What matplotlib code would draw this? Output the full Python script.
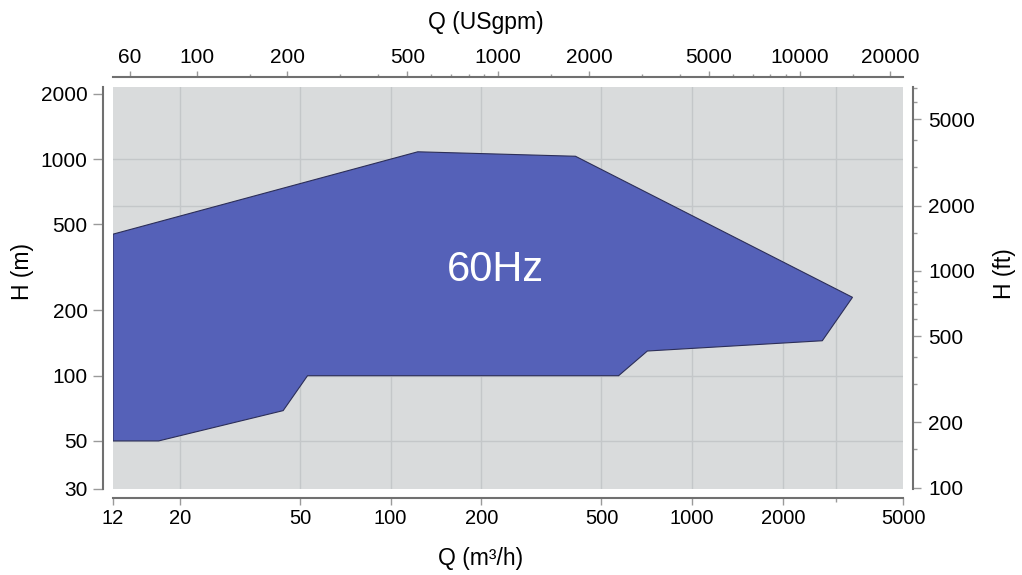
import numpy as np
import matplotlib
matplotlib.use("Agg")
import matplotlib.pyplot as plt
from matplotlib.ticker import FixedLocator, FixedFormatter, NullFormatter, NullLocator

plt.rcParams["font.family"] = ["Liberation Sans", "DejaVu Sans"]

# 60Hz working range, Q in m3/h, H in m
q_m3h = [12, 123, 410, 3400, 2700, 710, 570, 53, 44, 17, 12]
h_m = [450, 1080, 1030, 230, 145, 130, 100, 100, 69, 50, 50]

# axes ticks
q_ticks = [12, 20, 50, 100, 200, 500, 1000, 2000, 5000]
q_minor = [3000]
gpm_ticks = [60, 100, 200, 500, 1000, 2000, 5000, 10000, 20000]
gpm_minor = [150, 300, 400, 600, 700, 800, 900, 1500, 3000, 4000,
             6000, 7000, 8000, 9000, 15000]
h_ticks = [30, 50, 100, 200, 500, 1000, 2000]
ft_ticks = [100, 200, 500, 1000, 2000, 5000]
ft_minor = [150, 300, 400, 600, 700, 800, 900, 1500, 3000, 4000, 6000, 7000]

# grid lines
grid_q = [20, 50, 100, 200, 500, 1000, 2000, 3000]
grid_h = [50, 100, 1000]
grid_ft = [2000]

GPM_PER_M3H = 4.40287
FT_PER_M = 3.28084
q_lim = (12, 5000)
h_lim = (30, 2150)

SPINE = "#707070"
TICK = "#9a9a9a"
GRID = "#c4c7c9"

fig = plt.figure(figsize=(10.22, 5.75), dpi=100)
W, H = 1022, 575
ax = fig.add_axes([113 / W, 1 - 489 / H, 790 / W, 402 / H])
ax.set_xscale("log")
ax.set_yscale("log")
ax.set_xlim(q_lim)
ax.set_ylim(h_lim)
ax.set_facecolor("#d9dbdc")

for v in grid_q:
    ax.axvline(v, color=GRID, lw=1, zorder=0.5)
for v in grid_h:
    ax.axhline(v, color=GRID, lw=1, zorder=0.5)
# the one ft grid line sits under the envelope too
for v in grid_ft:
    ax.axhline(v / FT_PER_M, color=GRID, lw=1, zorder=0.5)

ax.fill(q_m3h, h_m, facecolor="#5561b8", edgecolor="#2c2e58", lw=0.8, zorder=2)
ax.text(222, 308, "60Hz", color="white", fontsize=30, ha="center", va="center", zorder=3)

# main axes: left / bottom
for s in ["top", "right"]:
    ax.spines[s].set_visible(False)
ax.spines["left"].set_position(("outward", 7.2))
ax.spines["bottom"].set_position(("outward", 6.5))
for s in ["left", "bottom"]:
    ax.spines[s].set_color(SPINE)
    ax.spines[s].set_linewidth(1.5)

ax.xaxis.set_major_locator(FixedLocator(q_ticks))
ax.xaxis.set_major_formatter(FixedFormatter([str(t) for t in q_ticks]))
ax.xaxis.set_minor_locator(FixedLocator(q_minor))
ax.xaxis.set_minor_formatter(NullFormatter())
ax.yaxis.set_major_locator(FixedLocator(h_ticks))
ax.yaxis.set_major_formatter(FixedFormatter([str(t) for t in h_ticks]))
ax.yaxis.set_minor_locator(NullLocator())
ax.tick_params(axis="x", which="major", length=5, width=1, color=TICK, pad=3, labelsize=14.5)
ax.tick_params(axis="x", which="minor", length=3, width=1, color=TICK)
ax.tick_params(axis="y", which="major", length=7, width=1, color=TICK, pad=4, labelsize=15)

# top axis in USgpm
ax_top = ax.twiny()
ax_top.set_xscale("log")
ax_top.set_xlim(q_lim[0] * GPM_PER_M3H, q_lim[1] * GPM_PER_M3H)
for s in ["left", "right", "bottom"]:
    ax_top.spines[s].set_visible(False)
ax_top.spines["top"].set_position(("outward", 7.2))
ax_top.spines["top"].set_color(SPINE)
ax_top.spines["top"].set_linewidth(1.5)
ax_top.xaxis.set_major_locator(FixedLocator(gpm_ticks))
ax_top.xaxis.set_major_formatter(FixedFormatter([str(t) for t in gpm_ticks]))
ax_top.xaxis.set_minor_locator(FixedLocator(gpm_minor))
ax_top.xaxis.set_minor_formatter(NullFormatter())
ax_top.tick_params(axis="x", which="major", length=4.3, width=1, color=TICK, pad=3, labelsize=15)
ax_top.tick_params(axis="x", which="minor", length=2.2, width=1, color=TICK)

# right axis in ft
ax_right = ax.twinx()
ax_right.set_yscale("log")
ax_right.set_ylim(h_lim[0] * FT_PER_M, h_lim[1] * FT_PER_M)
for s in ["left", "top", "bottom"]:
    ax_right.spines[s].set_visible(False)
ax_right.spines["right"].set_position(("outward", 7.2))
ax_right.spines["right"].set_color(SPINE)
ax_right.spines["right"].set_linewidth(1.5)
ax_right.yaxis.set_major_locator(FixedLocator(ft_ticks))
ax_right.yaxis.set_major_formatter(FixedFormatter([str(t) for t in ft_ticks]))
ax_right.yaxis.set_minor_locator(FixedLocator(ft_minor))
ax_right.yaxis.set_minor_formatter(NullFormatter())
ax_right.tick_params(axis="y", which="major", length=6, width=1, color=TICK, pad=5, labelsize=15)
ax_right.tick_params(axis="y", which="minor", length=3, width=1, color=TICK)

# axis titles
fig.text(481 / W, 1 - 558 / H, "Q (m³/h)", fontsize=16.5, ha="center", va="center")
fig.text(486 / W, 1 - 22 / H, "Q (USgpm)", fontsize=16.5, ha="center", va="center")
fig.text(23 / W, 1 - 271 / H, "H (m)", fontsize=16.5, rotation=90, ha="center", va="center")
fig.text(1004 / W, 1 - 274 / H, "H (ft)", fontsize=16.5, rotation=90, ha="center", va="center")

fig.savefig("out.png", dpi=100)
